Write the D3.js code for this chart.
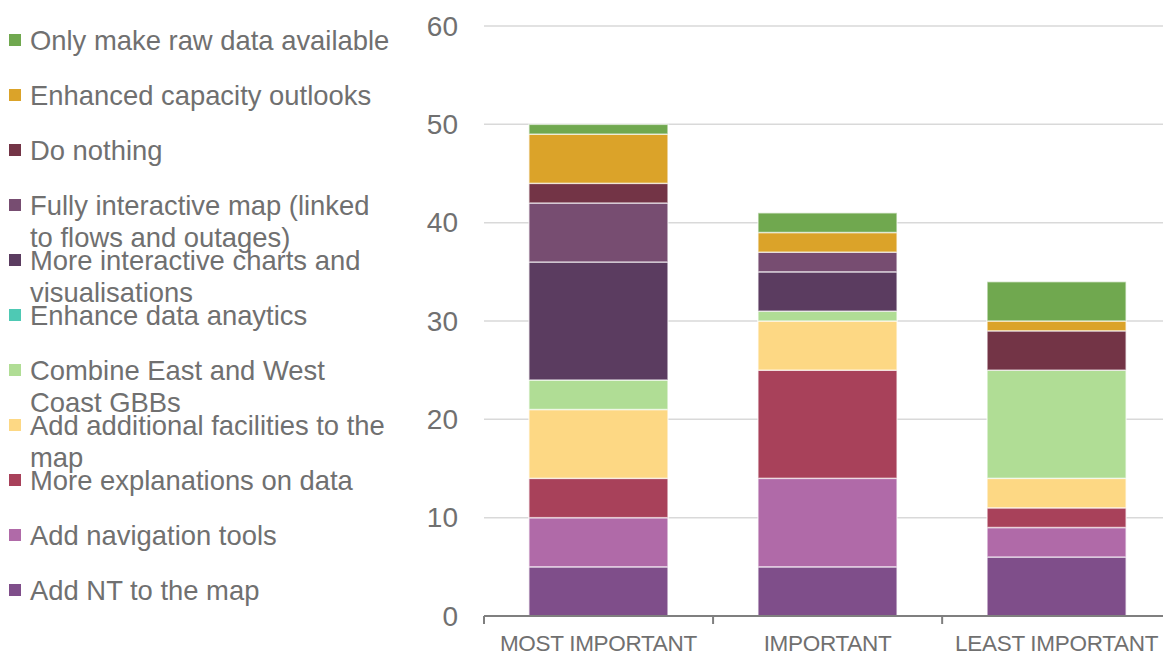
<!DOCTYPE html>
<html><head><meta charset="utf-8">
<script src="https://cdn.jsdelivr.net/npm/d3@7"></script>
<style>body{margin:0;background:#fff}svg{display:block}text{font-family:"Liberation Sans",Arial,sans-serif}</style>
</head><body><svg id="c" width="1163" height="655"></svg>
<script>
const categories = ["MOST IMPORTANT", "IMPORTANT", "LEAST IMPORTANT"];
const seriesNames = ["Add NT to the map", "Add navigation tools", "More explanations on data", "Add additional facilities to the map", "Combine East and West Coast GBBs", "Enhance data anaytics", "More interactive charts and visualisations", "Fully interactive map (linked to flows and outages)", "Do nothing", "Enhanced capacity outlooks", "Only make raw data available"];
const legendLines = [["Add NT to the map"], ["Add navigation tools"], ["More explanations on data"], ["Add additional facilities to the", "map"], ["Combine East and West", "Coast GBBs"], ["Enhance data anaytics"], ["More interactive charts and", "visualisations"], ["Fully interactive map (linked", "to flows and outages)"], ["Do nothing"], ["Enhanced capacity outlooks"], ["Only make raw data available"]];
const addNT = [5, 5, 6];
const navTools = [5, 9, 3];
const explanations = [4, 11, 2];
const facilities = [7, 5, 3];
const combine = [3, 1, 11];
const analytics = [0, 0, 0];
const charts = [12, 4, 0];
const fullMap = [6, 2, 0];
const doNothing = [2, 0, 4];
const capacity = [5, 2, 1];
const rawData = [1, 2, 4];
const yTicks = [0, 10, 20, 30, 40, 50, 60];
const colors = ["#7f4e8a", "#b06aa8", "#a8415a", "#fdd884", "#b0dd95", "#4ec9b4", "#5b3c60", "#774d71", "#733446", "#dba329", "#70a84f"];

const seriesVals = [addNT, navTools, explanations, facilities, combine, analytics, charts, fullMap, doNothing, capacity, rawData];
const rows = categories.map((c, i) => { const o = {cat: c}; seriesNames.forEach((s, j) => o[s] = seriesVals[j][i]); return o; });
const stack = d3.stack().keys(seriesNames)(rows);

const svg = d3.select("#c");
const x0 = 484, x1 = 1171, yTop = 26, yBot = 616;
const x = d3.scaleBand().domain(categories).range([x0, x1]).paddingInner(0.393).paddingOuter(0.196);
const y = d3.scaleLinear().domain([0, 60]).range([yBot, yTop]);
const txt = "#707070";

// gridlines
svg.append("g").selectAll("line").data(yTicks.filter(t => t > 0)).join("line")
  .attr("x1", x0).attr("x2", 1163).attr("y1", d => y(d)).attr("y2", d => y(d))
  .attr("stroke", "#d9d9d9").attr("stroke-width", 1.5);

// y labels
svg.append("g").selectAll("text").data(yTicks).join("text")
  .attr("x", 458).attr("y", d => y(d)).attr("dy", "0.35em").attr("text-anchor", "end")
  .attr("font-size", 28).attr("fill", txt).text(d => d);

// bars
svg.append("g").selectAll("g").data(stack).join("g").attr("fill", (d, i) => colors[i])
  .selectAll("rect").data(d => d.filter(p => p[1] - p[0] > 0)).join("rect")
  .attr("x", d => x(d.data.cat)).attr("width", x.bandwidth())
  .attr("y", d => y(d[1])).attr("height", d => y(d[0]) - y(d[1]))
  .attr("stroke", "rgba(255,255,255,0.6)").attr("stroke-width", 1.5);

// x axis
const step = x.step();
svg.append("line").attr("x1", x0).attr("x2", 1163).attr("y1", yBot).attr("y2", yBot).attr("stroke", "#7f7f7f").attr("stroke-width", 2);
svg.append("g").selectAll("line").data(d3.range(categories.length + 1)).join("line")
  .attr("x1", i => x0 + i * step).attr("x2", i => x0 + i * step).attr("y1", yBot).attr("y2", yBot + 8)
  .attr("stroke", "#7f7f7f").attr("stroke-width", 2);
svg.append("g").selectAll("text").data(categories).join("text")
  .attr("x", d => x(d) + x.bandwidth() / 2).attr("y", 651).attr("text-anchor", "middle")
  .attr("font-size", 22.5).attr("letter-spacing", -0.3).attr("fill", txt).text(d => d);

// legend (top to bottom = reverse order)
const leg = svg.append("g");
const order = d3.range(seriesNames.length).reverse();
order.forEach((si, k) => {
  const cy = 40 + k * 55;
  leg.append("rect").attr("x", 9).attr("y", cy - 6).attr("width", 12).attr("height", 12).attr("fill", colors[si]);
  legendLines[si].forEach((ln, li) => {
    leg.append("text").attr("x", 30).attr("y", cy + li * 32).attr("dy", "0.35em")
      .attr("font-size", 27.4).attr("fill", txt).text(ln);
  });
});
</script></body></html>
